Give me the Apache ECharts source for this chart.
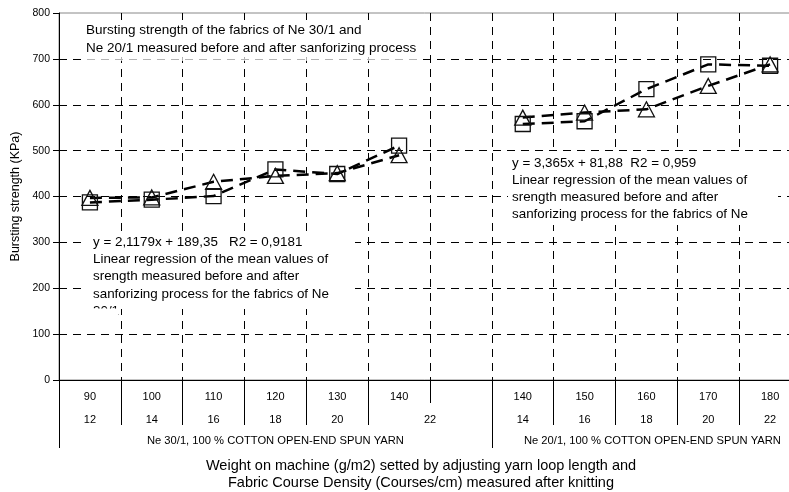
<!DOCTYPE html>
<html><head><meta charset="utf-8">
<script src="https://cdn.jsdelivr.net/npm/echarts@6/dist/echarts.min.js"></script>
<style>html,body{margin:0;padding:0;background:#fff}#c{width:789px;height:492px}</style>
</head><body><div id="c"></div>
<script>
// ---- data ----
const weights = ['90','100','110','120','130','140','','140','150','160','170','180'];
// course densities on half-slot positions (25 positions, boundaryGap false)
const densityLabels = ['','12','','14','','16','','18','','20','','','22','','','14','','16','','18','','20','','22',''];
const groupLabels = ['','','','','','','','Ne 30/1, 100 % COTTON OPEN-END SPUN YARN','','','','','','','','','','','','Ne 20/1, 100 % COTTON OPEN-END SPUN YARN','','','','',''];
const squares   = [387, 393, 401, 459, 449, 511, null, 558, 564, 634, 688, 685];
const triangles = [397, 398, 432, 445, 451, 490, null, 572, 583, 590, 641, 688];
const yMin = 0, yMax = 800, yStep = 100;
const yTitle = 'Bursting strength (KPa)';
const xTitle = 'Weight on machine (g/m2) setted by adjusting yarn loop length and\nFabric Course Density (Courses/cm) measured after knitting';
const noteTitle = 'Bursting strength of the fabrics of Ne 30/1 and\nNe 20/1 measured before and after sanforizing process';
const note1 = 'y = 2,1179x + 189,35   R2 = 0,9181\nLinear regression of the mean values of\nsrength measured before and after\nsanforizing process for the fabrics of Ne\n30/1';
const note2 = 'y = 3,365x + 81,88  R2 = 0,959\nLinear regression of the mean values of\nsrength measured before and after\nsanforizing process for the fabrics of Ne';
// tick separators (category index = left boundary of that slot)
const midTicks = [1,2,3,4,5,8,9,10,11];
const longTicks = [0,7];
const shortTicks = [0,6];

const FONT = 'Liberation Sans, Arial, sans-serif';
const chart = echarts.init(document.getElementById('c'), null, {renderer:'canvas'});

function sepAxis(idx, len){
  return {
    type:'category', gridIndex:0, position:'bottom', data:weights, boundaryGap:true,
    axisLine:{show:false}, axisLabel:{show:false}, splitLine:{show:false},
    axisTick:{show:true, length:len, interval:(i)=>idx.indexOf(i)>=0, lineStyle:{color:'#000',width:1}}
  };
}

chart.setOption({
  animation:false,
  backgroundColor:'#fff',
  textStyle:{fontFamily:FONT},
  grid:{left:59, top:13, width:742, height:367, outerBoundsMode:'none', containLabel:false,
        show:true, borderColor:'#888', borderWidth:1, backgroundColor:'transparent'},
  xAxis:[
    {
      type:'category', position:'bottom', data:weights, boundaryGap:true,
      axisLine:{show:true, lineStyle:{color:'#000',width:1}},
      axisTick:{show:true, length:45, interval:(i)=>midTicks.indexOf(i)>=0, lineStyle:{color:'#000',width:1}},
      axisLabel:{interval:0, margin:11, fontSize:11, color:'#000', fontFamily:FONT},
      splitLine:{show:true, interval:0, lineStyle:{color:'#000', width:1, type:[8,6]}}
    },
    {
      type:'category', position:'bottom', data:densityLabels, boundaryGap:false,
      axisLine:{show:false}, axisTick:{show:false}, splitLine:{show:false},
      axisLabel:{interval:0, margin:34, fontSize:11, color:'#000', fontFamily:FONT}
    },
    {
      type:'category', position:'bottom', data:groupLabels, boundaryGap:false,
      axisLine:{show:false}, axisTick:{show:false}, splitLine:{show:false},
      axisLabel:{interval:0, margin:55, fontSize:11.2, color:'#000', fontFamily:FONT,
        formatter:(v,i)=> (i===19 && v) ? '{r|'+v+'}' : v,
        rich:{r:{fontSize:11.2, color:'#000', fontFamily:FONT, padding:[0,0,0,12]}}}
    },
    sepAxis(longTicks, 68),
    sepAxis(shortTicks, 23)
  ],
  yAxis:{
    type:'value', min:yMin, max:yMax, interval:yStep,
    name:yTitle, nameLocation:'middle', nameGap:29,
    nameTextStyle:{fontSize:12.5, color:'#000', fontFamily:FONT},
    axisLine:{show:true, lineStyle:{color:'#000',width:1}},
    axisTick:{show:true, length:6, lineStyle:{color:'#000'}},
    axisLabel:{margin:9, fontSize:10.5, color:'#000', fontFamily:FONT},
    splitLine:{show:true, showMaxLine:false, lineStyle:{color:'#000', width:1, type:[8,6]}}
  },
  series:[
    {
      type:'line', data:squares, xAxisIndex:0, yAxisIndex:0,
      symbol:'rect', symbolSize:15, connectNulls:false,
      lineStyle:{color:'#000', width:2.5, type:[12,7]},
      itemStyle:{color:'rgba(255,255,255,0)', borderColor:'#111', borderWidth:1.3},
      z:3
    },
    {
      type:'line', data:triangles, xAxisIndex:0, yAxisIndex:0,
      symbol:'triangle', symbolSize:[16,15], connectNulls:false,
      lineStyle:{color:'#000', width:2.5, type:[12,7]},
      itemStyle:{color:'rgba(255,255,255,0)', borderColor:'#111', borderWidth:1.3},
      z:3
    }
  ],
  graphic:[
    {type:'rect', z:1, shape:{x:83,y:20,width:337,height:37.5}, style:{fill:'#fff'}},
    {type:'rect', z:1, shape:{x:83,y:57.5,width:337,height:3.5}, style:{fill:'rgba(255,255,255,0.7)'}},
    {type:'text', z:1, x:86, y:21, style:{text:noteTitle, font:'13.5px '+FONT, fill:'#000', lineHeight:18}},
    {type:'rect', z:1, shape:{x:87,y:233,width:268,height:76}, style:{fill:'#fff'}},
    {type:'text', z:1, x:93, y:233.3, style:{text:note1, font:'13.4px '+FONT, fill:'#000', lineHeight:17.4}},
    {type:'rect', z:1, shape:{x:88,y:308.5,width:30,height:12}, style:{fill:'#fff'}},
    {type:'rect', z:1, shape:{x:508,y:152,width:270,height:73}, style:{fill:'#fff'}},
    {type:'text', z:1, x:512, y:154.5, style:{text:note2, font:'13.4px '+FONT, fill:'#000', lineHeight:17}},
    {type:'text', z:1, x:421, y:457.5, style:{text:xTitle, font:'14.5px '+FONT, fill:'#000', lineHeight:17, align:'center'}}
  ]
});
</script>
</body></html>
